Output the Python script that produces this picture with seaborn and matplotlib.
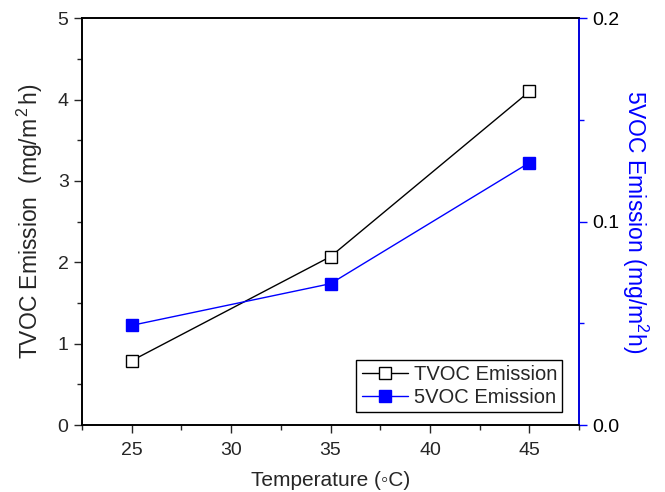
import matplotlib
matplotlib.use("Agg")
import matplotlib.pyplot as plt
import seaborn as sns
import pandas as pd
from matplotlib.ticker import MultipleLocator

temperature = [25, 35, 45]
tvoc_emission = [0.79, 2.07, 4.10]
voc5_emission = [0.049, 0.0695, 0.129]

sns.set_style("ticks")
plt.rcParams['font.family'] = ['Liberation Sans', 'DejaVu Sans']
plt.rcParams['mathtext.fontset'] = 'custom'
plt.rcParams['mathtext.rm'] = 'Liberation Sans'
plt.rcParams['mathtext.it'] = 'Liberation Sans'

df = pd.DataFrame({"T": temperature, "TVOC": tvoc_emission, "VOC5": voc5_emission})

fig = plt.figure(figsize=(6.65, 4.92), dpi=100)
ax = fig.add_axes([0.123, 0.136, 0.748, 0.827])
ax2 = ax.twinx()

sns.lineplot(data=df, x="T", y="TVOC", ax=ax, color="black", marker="s", markersize=8,
             markerfacecolor="white", markeredgecolor="black", markeredgewidth=1.0,
             linewidth=1.0, label="TVOC Emission", legend=False)
sns.lineplot(data=df, x="T", y="VOC5", ax=ax2, color="blue", marker="s", markersize=8,
             markerfacecolor="blue", markeredgecolor="blue", markeredgewidth=1.0,
             linewidth=1.0, label="5VOC Emission", legend=False)

ax.set_xlim(22.5, 47.5)
ax.set_ylim(0, 5)
ax2.set_ylim(0, 0.2)
ax.xaxis.set_major_locator(MultipleLocator(5))
ax.xaxis.set_minor_locator(MultipleLocator(2.5))
ax.yaxis.set_major_locator(MultipleLocator(1))
ax.yaxis.set_minor_locator(MultipleLocator(0.5))
ax2.yaxis.set_major_locator(MultipleLocator(0.1))
ax2.yaxis.set_minor_locator(MultipleLocator(0.05))
ax2.yaxis.set_major_formatter(matplotlib.ticker.FormatStrFormatter('%.1f'))

ax.set_xlabel("Temperature (\u25e6C)", fontsize=15, labelpad=9)
ax.set_ylabel("TVOC Emission  (mg/m$^{\\,2\\,}$h)", fontsize=16.5, labelpad=9)
ax2.set_ylabel("5VOC Emission (mg/m$^2$h)", fontsize=16.5, color="blue", rotation=270, labelpad=22)

for a in (ax, ax2):
    a.tick_params(which='major', direction='out', length=6, width=1.0, labelsize=14)
    a.tick_params(which='minor', direction='out', length=3.5, width=1.0)
    for s in a.spines.values():
        s.set_linewidth(1.2)
        s.set_color('black')
ax.tick_params(axis='x', which='major', pad=6)
ax.tick_params(axis='x', which='both', top=False)
ax2.spines['right'].set_color('blue')
ax2.tick_params(axis='y', which='both', colors='blue', labelcolor='black')

h1, l1 = ax.get_legend_handles_labels()
h2, l2 = ax2.get_legend_handles_labels()
leg = ax2.legend(h1 + h2, l1 + l2, loc='lower right', fontsize=14.5, frameon=True,
                 fancybox=False, edgecolor='black', framealpha=1, borderpad=0.25,
                 handlelength=2.3, handletextpad=0.3, labelspacing=0.2,
                 borderaxespad=0, bbox_to_anchor=(0.966, 0.032))
leg.get_frame().set_linewidth(1.0)

fig.savefig("out.png", dpi=100)
